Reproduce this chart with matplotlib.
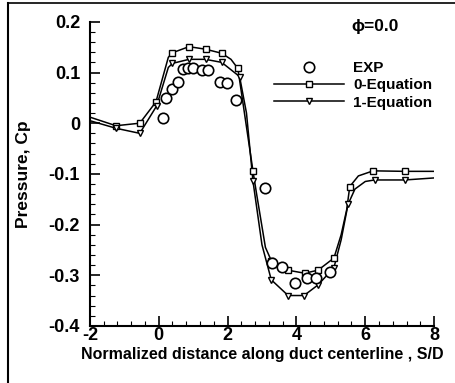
import numpy as np
import matplotlib
matplotlib.use("Agg")
import matplotlib.pyplot as plt
from matplotlib.lines import Line2D
from matplotlib.ticker import MultipleLocator

plt.rcParams['font.family'] = ['Liberation Sans', 'DejaVu Sans']
plt.rcParams['font.weight'] = 'bold'

# Experimental data (circles)
exp_s = [0.13, 0.22, 0.40, 0.57, 0.71, 0.86, 1.00, 1.25, 1.44, 1.78, 1.97, 2.26,
         3.09, 3.30, 3.58, 3.95, 4.30, 4.58, 4.97]
exp_cp = [0.010, 0.050, 0.068, 0.082, 0.107, 0.108, 0.108, 0.105, 0.105, 0.082, 0.079, 0.046,
          -0.128, -0.275, -0.283, -0.316, -0.305, -0.306, -0.293]

# 0-Equation model: curve and marker points
eq0_s = [-2.0, -1.24, -0.55, -0.08, 0.28, 0.40, 0.88, 1.36, 1.83, 2.10, 2.30, 2.74, 2.84, 3.10,
         3.27, 3.75, 4.24, 4.63, 5.09, 5.30, 5.46, 5.55, 5.80, 6.23, 7.15, 8.0]
eq0_cp = [0.012, -0.005, 0.000, 0.042, 0.130, 0.139, 0.151, 0.146, 0.138, 0.126, 0.108, -0.095, -0.138, -0.245,
          -0.271, -0.290, -0.296, -0.290, -0.266, -0.220, -0.171, -0.125, -0.104, -0.094, -0.095, -0.095]
eq0_mark_s = [-1.24, -0.55, -0.08, 0.40, 0.88, 1.36, 1.83, 2.30, 2.74, 3.27, 3.75, 4.24, 4.63, 5.09, 5.55, 6.23, 7.15]
eq0_mark_cp = [-0.005, 0.000, 0.042, 0.139, 0.151, 0.146, 0.138, 0.108, -0.095, -0.271, -0.290, -0.296, -0.290,
               -0.266, -0.125, -0.094, -0.095]

# 1-Equation model: curve and marker points
eq1_s = [-2.0, -1.24, -0.55, -0.06, 0.28, 0.40, 0.88, 1.36, 1.83, 2.35, 2.55, 2.74, 3.00, 3.27,
         3.76, 4.22, 4.63, 5.09, 5.30, 5.50, 5.70, 6.00, 6.27, 7.15, 8.0]
eq1_cp = [0.005, -0.010, -0.020, 0.034, 0.110, 0.118, 0.126, 0.126, 0.120, 0.092, 0.020, -0.115, -0.240, -0.309,
          -0.340, -0.340, -0.319, -0.285, -0.230, -0.160, -0.130, -0.115, -0.112, -0.112, -0.108]
eq1_mark_s = [-1.24, -0.55, -0.06, 0.40, 0.88, 1.36, 1.83, 2.35, 2.74, 3.27, 3.76, 4.22, 4.63, 5.09, 5.50, 6.27, 7.15]
eq1_mark_cp = [-0.010, -0.020, 0.034, 0.118, 0.126, 0.126, 0.120, 0.092, -0.115, -0.309, -0.340, -0.340, -0.319,
               -0.285, -0.160, -0.112, -0.112]

fig = plt.figure(figsize=(4.56, 3.83), dpi=100)
ax = fig.add_axes([0.197, 0.149, 0.755, 0.794])

ax.plot(eq0_s, eq0_cp, color='black', lw=1.1)
ax.plot(eq1_s, eq1_cp, color='black', lw=1.1)
ax.plot(eq0_mark_s, eq0_mark_cp, ls='none', marker='s', ms=4.5, mfc='white', mec='black', mew=1.0)
ax.plot(eq1_mark_s, eq1_mark_cp, ls='none', marker='v', ms=5, mfc='white', mec='black', mew=1.0)
ax.plot(exp_s, exp_cp, ls='none', marker='o', ms=7.5, mfc='white', mec='black', mew=1.2)

ax.set_xlim(-2, 8)
ax.set_ylim(-0.4, 0.2)
ax.xaxis.set_minor_locator(MultipleLocator(0.4))
ax.yaxis.set_minor_locator(MultipleLocator(0.02))
ax.set_xticks([-2, 0, 2, 4, 6, 8])
ax.set_xticklabels(['-2', '0', '2', '4', '6', '8'])
ax.set_yticks([-0.4, -0.3, -0.2, -0.1, 0, 0.1, 0.2])
ax.set_yticklabels(['-0.4', '-0.3', '-0.2', '-0.1', '0', '0.1', '0.2'])
ax.tick_params(which='major', direction='in', length=7, width=1.2, labelsize=13)
ax.tick_params(which='minor', direction='in', length=3.5, width=0.8)
ax.tick_params(axis='x', pad=1)
ax.tick_params(axis='y', pad=7)
for lab in ax.get_xticklabels() + ax.get_yticklabels():
    lab.set_fontweight('bold')

for side in ['top', 'right']:
    ax.spines[side].set_visible(False)
for side in ['left', 'bottom']:
    ax.spines[side].set_linewidth(1.5)

ax.set_xlabel('Normalized distance along duct centerline , S/D', fontsize=11.5, fontweight='bold', labelpad=2)
ax.set_ylabel('Pressure, Cp', fontsize=12.5, fontweight='bold')
ax.yaxis.set_label_coords(-0.17, 0.5)

ax.text(0.76, 1.01, '\u03d5=0.0', transform=ax.transAxes, fontsize=12.5, fontweight='bold', va='top')

handles = [
    Line2D([], [], ls='none', marker='o', ms=7.5, mfc='white', mec='black', mew=1.2),
    Line2D([], [], color='black', lw=1.1, marker='s', ms=4.5, mfc='white', mec='black'),
    Line2D([], [], color='black', lw=1.1, marker='v', ms=5, mfc='white', mec='black'),
]
ax.legend(handles, ['EXP', '0-Equation', '1-Equation'], loc='upper left',
          bbox_to_anchor=(0.495, 0.915), frameon=False, handlelength=4.6,
          handletextpad=0.6, labelspacing=0.2, prop={'weight': 'bold', 'size': 11})

# Outer frame (left and top edges)
fig.add_artist(Line2D([8 / 456, 8 / 456], [0, 1 - 3 / 383], transform=fig.transFigure, color='black', lw=1.5))
fig.add_artist(Line2D([8 / 456, 1], [1 - 3 / 383, 1 - 3 / 383], transform=fig.transFigure, color='black', lw=1.2))

fig.savefig('out.png', dpi=100)
